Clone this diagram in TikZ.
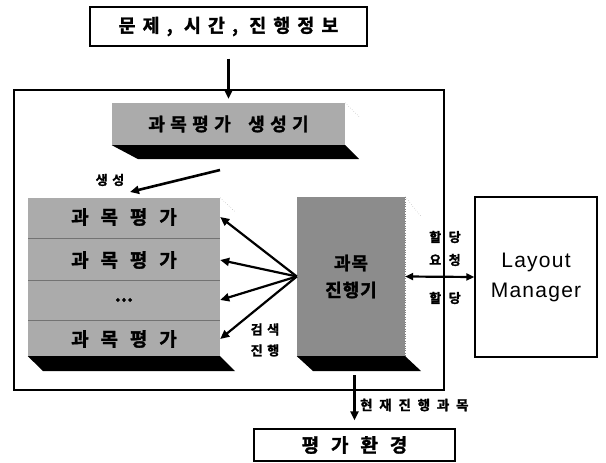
\documentclass[tikz,border=0pt]{standalone}
\usepackage{fontspec}
\setsansfont{Liberation Sans}
\newfontfamily\kr{Noto Sans CJK KR Bold}[FakeBold=1.6]
\usetikzlibrary{arrows.meta}

\tikzset{
  boxstyle/.style={draw, line width=1.3pt, inner sep=0pt},
  facestyle/.style={fill=black!33, inner sep=0pt},
  rowstyle/.style={inner sep=0pt, minimum width=192, minimum height=20},
  slabstyle/.style={fill=black},
  ghost/.style={gray, line width=0.4pt, dotted},
  arr/.style={line width=2.2pt, -{Triangle[length=9pt,width=8pt]}},
  darr/.style={line width=2.2pt, {Triangle[length=8pt,width=7pt]}-{Triangle[length=8pt,width=7pt]}},
  small/.style={font=\kr\fontsize{13}{15}\selectfont\addfontfeature{LetterSpace=35}, inner sep=0pt}
}

\begin{document}
\begin{tikzpicture}[x=1pt, y=-1pt]
  \useasboundingbox (0,0) rectangle (606,463);

  % input box
  \node [boxstyle, minimum width=277, minimum height=39,
         font=\kr\fontsize{18.5}{22}\selectfont\addfontfeature{LetterSpace=38}]
        (info) at (228.5,26.5) {문제, 시간, 진행정보};

  % frame
  \draw [line width=1.2pt] (14,90) rectangle (444,390);

  % generator
  \node [facestyle, minimum width=233, minimum height=42,
         font=\kr\fontsize{18}{21}\selectfont\addfontfeature{LetterSpace=30}]
        (gen) at (228.5,124) {과목평가 \hspace{8pt}생성기};
  \fill [slabstyle] (gen.south west) -- (gen.south east) -- ++(14,14) -- ++(-221,0) -- cycle;
  \draw [ghost] (gen.north east) -- ++(15,15);

  % evaluation stack
  \node [facestyle, minimum width=192, minimum height=158] (evals) at (124,277) {};
  \fill [slabstyle] (evals.south west) -- (evals.south east) -- ++(15,15) -- ++(-192,0) -- cycle;
  \draw [ghost] (evals.north east) -- ++(15,14);
  \draw [black!55, line width=0.6pt] (28,238) -- (220,238);
  \draw [black!55, line width=0.6pt] (28,280) -- (220,280);
  \draw [black!55, line width=0.6pt] (28,320) -- (220,320);
  \node [rowstyle, font=\kr\fontsize{19}{22}\selectfont\addfontfeature{LetterSpace=40}] (e1) at (124,217) {과 목 평 가};
  \node [rowstyle, font=\kr\fontsize{19}{22}\selectfont\addfontfeature{LetterSpace=40}] (e2) at (124,260) {과 목 평 가};
  \node [rowstyle, font=\kr\fontsize{19}{22}\selectfont] (e3) at (124,300) {...};
  \node [rowstyle, font=\kr\fontsize{19}{22}\selectfont\addfontfeature{LetterSpace=40}] (e4) at (124,339) {과 목 평 가};

  % runner
  \node [facestyle, fill=black!45, minimum width=108, minimum height=159, align=center,
         font=\kr\fontsize{18}{27}\selectfont\addfontfeature{LetterSpace=5}]
        (run) at (351,276.5) {과목\\진행기};
  \fill [slabstyle] (run.south west) -- (run.south east) -- ++(16,15) -- ++(-108,0) -- cycle;
  \draw [ghost] (run.north east) -- ++(16,20);
  \draw [ghost] (run.north east) -- (run.south east);

  % layout manager
  \node [boxstyle, minimum width=122, minimum height=160, align=center,
         font=\sffamily\fontsize{21}{30}\selectfont\addfontfeature{LetterSpace=6}]
        (layout) at (536,277) {Layout\\Manager};

  % output box
  \node [boxstyle, minimum width=201, minimum height=32,
         font=\kr\fontsize{19}{22}\selectfont\addfontfeature{LetterSpace=40}]
        (env) at (354.5,445) {평 가 환 경};

  % labels
  \node [small] (lmk) at (110,180) {생성};
  \node [small, align=center, font=\kr\fontsize{13}{21}\selectfont\addfontfeature{LetterSpace=35}]
        (lsearch) at (265,340) {검색\\진행};
  \node [small] (lreq1) at (445,237) {할 당};
  \node [small] (lreq2) at (445,260) {요 청};
  \node [small] (lgive) at (445,298) {할 당};
  \node [small, anchor=west, font=\kr\fontsize{13.5}{15}\selectfont\addfontfeature{LetterSpace=50}]
        (lcur) at (360,405) {현재진행과목};

  % connectors
  \coordinate (mkfrom) at (220,170);
  \coordinate (mkto) at (130,192);
  \draw [arr, shorten <=12pt, shorten >=4pt] (info.south) -- (gen.north);
  \draw [arr, line width=2.6pt] (mkfrom) -- (mkto);
  \foreach \r in {e1,e2,e3,e4}
    \draw [arr] (run.west) -- (\r.east);
  \draw [darr] (run.east) -- (layout.west);
  \draw [arr, shorten <=19pt, shorten >=8pt] (env.north |- run.south) -- (env.north);
\end{tikzpicture}
\end{document}
